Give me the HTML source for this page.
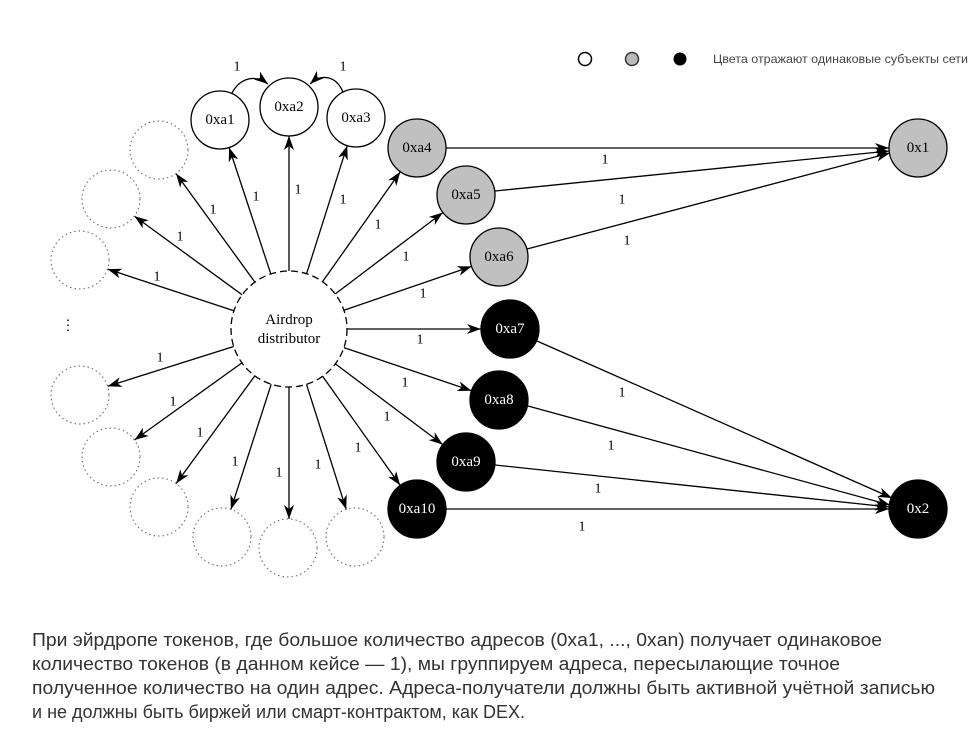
<!DOCTYPE html>
<html><head><meta charset="utf-8"><style>
html,body{margin:0;padding:0;background:#fff;}
svg{display:block;}
.n{font-family:"Liberation Serif",serif;font-size:15px;text-anchor:middle;dominant-baseline:central;}
.l{font-family:"Liberation Serif",serif;font-size:14px;text-anchor:middle;dominant-baseline:central;}
.p{font-family:"Liberation Sans",sans-serif;font-size:18px;fill:#333;}
</style></head><body>
<svg width="974" height="739" viewBox="0 0 974 739" xmlns="http://www.w3.org/2000/svg">
<defs>
<marker id="a" viewBox="0 0 14 10" refX="14" refY="5" markerWidth="14" markerHeight="10" markerUnits="userSpaceOnUse" orient="auto">
<path d="M0,0 L14,5 L0,10 L4,5 Z" fill="#000"/>
</marker>
</defs>
<circle cx="585" cy="59" r="6.5" fill="#fff" stroke="#000" stroke-width="1.5"/>
<circle cx="632" cy="59" r="6.5" fill="#bbb" stroke="#333" stroke-width="1.5"/>
<circle cx="680" cy="59" r="6.5" fill="#000"/>
<text x="713" y="63" font-family="Liberation Sans,sans-serif" font-size="12" fill="#444" textLength="255" lengthAdjust="spacingAndGlyphs">Цвета отражают одинаковые субъекты сети</text>

<g stroke="#000" stroke-width="1.3" fill="none" marker-end="url(#a)">
<line x1="270.8" y1="273.9" x2="229.1" y2="147.5"/>
<line x1="289" y1="271" x2="289" y2="136"/>
<line x1="306.6" y1="273.7" x2="347.2" y2="145.6"/>
<line x1="322.5" y1="281.7" x2="400.3" y2="171.7"/>
<line x1="335.2" y1="294" x2="442.9" y2="212.5"/>
<line x1="343.9" y1="310.2" x2="471.6" y2="266.4"/>
<line x1="347" y1="329" x2="481" y2="329"/>
<line x1="343.9" y1="347.6" x2="471.5" y2="390.7"/>
<line x1="335.4" y1="363.9" x2="442.8" y2="444.6"/>
<line x1="322.6" y1="376.3" x2="400.2" y2="485.4"/>
<line x1="254.9" y1="282.1" x2="176" y2="173.5"/>
<line x1="242.1" y1="294.8" x2="134.4" y2="216.1"/>
<line x1="233.9" y1="310.8" x2="107.6" y2="269.1"/>
<line x1="233.7" y1="346.5" x2="107.7" y2="386.3"/>
<line x1="241.9" y1="362.9" x2="134.5" y2="440"/>
<line x1="254.8" y1="375.9" x2="176.1" y2="483.6"/>
<line x1="271.2" y1="384.2" x2="230.9" y2="509.4"/>
<line x1="289" y1="387" x2="289" y2="519"/>
<line x1="306.5" y1="384.3" x2="346.2" y2="509.4"/>
<line x1="446" y1="148" x2="889" y2="148"/>
<line x1="495" y1="191" x2="889" y2="151"/>
<line x1="527" y1="249" x2="890" y2="153"/>
<line x1="537" y1="341" x2="892" y2="498"/>
<line x1="528" y1="406" x2="890" y2="505"/>
<line x1="495" y1="465" x2="889" y2="507"/>
<line x1="446" y1="509" x2="889" y2="509"/>
<path d="M232,93 C240,78 255,74 268,84"/>
<path d="M343,92 C336,76 322,73 310,84"/>
</g>

<g class="l">
<text x="237" y="67">1</text><text x="343" y="67">1</text>
<text x="256" y="197">1</text><text x="298" y="190">1</text><text x="343" y="200">1</text>
<text x="378" y="225">1</text><text x="406" y="257">1</text><text x="423" y="294">1</text>
<text x="420" y="340">1</text><text x="405" y="383">1</text><text x="387" y="417">1</text>
<text x="358" y="448">1</text>
<text x="213" y="210">1</text><text x="180" y="237">1</text><text x="157" y="277">1</text>
<text x="160" y="358">1</text><text x="173" y="402">1</text><text x="200" y="433">1</text>
<text x="235" y="462">1</text><text x="279" y="473">1</text><text x="318" y="465">1</text>
<text x="605" y="160">1</text><text x="622" y="200">1</text><text x="627" y="241">1</text>
<text x="622" y="393">1</text><text x="611" y="446">1</text><text x="598" y="489">1</text>
<text x="582" y="527">1</text>
<text x="68" y="326">⋮</text>
</g>

<g fill="none" stroke="#777" stroke-width="1.2" stroke-dasharray="1.5,3">
<circle cx="159" cy="150" r="29"/><circle cx="111" cy="199" r="29"/><circle cx="80" cy="260" r="29"/>
<circle cx="80" cy="395" r="29"/><circle cx="111" cy="457" r="29"/><circle cx="159" cy="507" r="29"/>
<circle cx="222" cy="537" r="29"/><circle cx="288" cy="548" r="29"/><circle cx="355" cy="537" r="29"/>
</g>

<circle cx="289" cy="329" r="58" fill="#fff" stroke="#000" stroke-width="1.3" stroke-dasharray="7,4"/>
<text class="n" x="289" y="320" font-size="16">Airdrop</text>
<text class="n" x="289" y="339" font-size="16">distributor</text>

<g stroke="#000" stroke-width="1.3">
<circle cx="220" cy="120" r="29" fill="#fff"/>
<circle cx="289" cy="107" r="29" fill="#fff"/>
<circle cx="356" cy="118" r="29" fill="#fff"/>
<circle cx="417" cy="148" r="29" fill="#c0c0c0"/>
<circle cx="466" cy="195" r="29" fill="#c0c0c0"/>
<circle cx="499" cy="257" r="29" fill="#c0c0c0"/>
<circle cx="918" cy="148" r="29" fill="#c0c0c0"/>
<circle cx="510" cy="329" r="29" fill="#000"/>
<circle cx="499" cy="400" r="29" fill="#000"/>
<circle cx="466" cy="462" r="29" fill="#000"/>
<circle cx="417" cy="509" r="29" fill="#000"/>
<circle cx="918" cy="509" r="29" fill="#000"/>
</g>
<g class="n">
<text x="220" y="120">0xa1</text><text x="289" y="107">0xa2</text><text x="356" y="118">0xa3</text>
<text x="417" y="148">0xa4</text><text x="466" y="195">0xa5</text><text x="499" y="257">0xa6</text>
<text x="918" y="148">0x1</text>
</g>
<g class="n" fill="#fff">
<text x="510" y="329">0xa7</text><text x="499" y="400">0xa8</text><text x="466" y="462">0xa9</text>
<text x="417" y="509">0xa10</text><text x="918" y="509">0x2</text>
</g>

<text class="p" x="32" y="646" textLength="850" lengthAdjust="spacingAndGlyphs">При эйрдропе токенов, где большое количество адресов (0xa1, ..., 0xan) получает одинаковое</text>
<text class="p" x="32" y="670" textLength="808" lengthAdjust="spacingAndGlyphs">количество токенов (в данном кейсе — 1), мы группируем адреса, пересылающие точное</text>
<text class="p" x="32" y="694" textLength="903" lengthAdjust="spacingAndGlyphs">полученное количество на один адрес. Адреса-получатели должны быть активной учётной записью</text>
<text class="p" x="32" y="718" textLength="493" lengthAdjust="spacingAndGlyphs">и не должны быть биржей или смарт-контрактом, как DEX.</text>
</svg>
</body></html>
